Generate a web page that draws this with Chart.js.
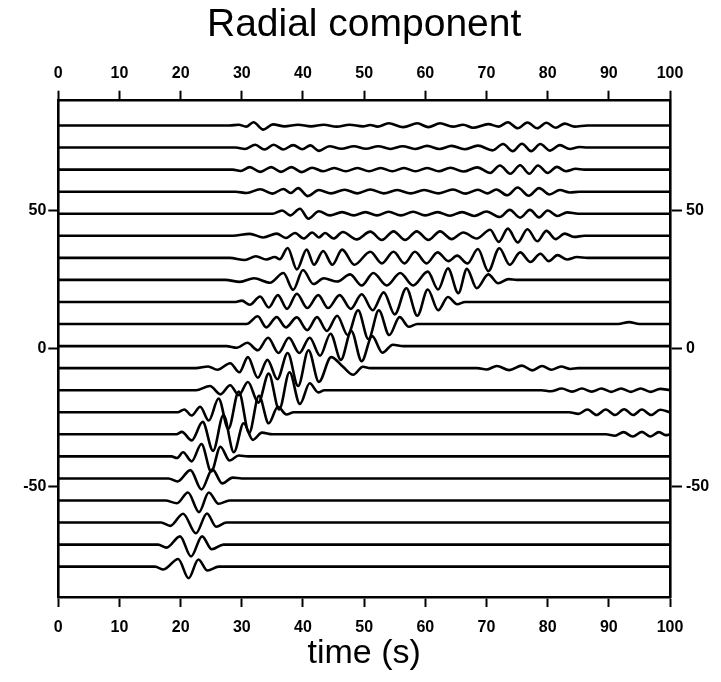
<!DOCTYPE html>
<html>
<head>
<meta charset="utf-8">
<script src="https://cdn.jsdelivr.net/npm/chart.js@4.4.0/dist/chart.umd.min.js"></script>
<style>
  html, body { margin: 0; padding: 0; background: #fff; }
  canvas { display: block; }
</style>
</head>
<body>
<canvas id="kesit" width="721" height="682"></canvas>
<script>
// record section: trace offsets (top to bottom) and [time, amplitude] pairs per trace
const baselines = [81, 73, 65, 57, 49, 41, 33, 25, 17, 9, 1, -7, -15, -23, -31, -39, -47, -55, -63, -71, -79];
const xTicks = [0, 10, 20, 30, 40, 50, 60, 70, 80, 90, 100];
const yTicks = [-50, 0, 50];

const tr0 = [[0,0],[28,0],[29.5,0.3],[30.7,-0.4],[31.9,1.2],[33.5,-1.5],[35.1,0.4],[37.0,-0.3],[39.2,0.3],[41.3,-0.3],[43.4,0.3],[45.5,-0.4],[47.6,0.3],[49.8,-0.3],[51.0,0.2],[52.2,-0.4],[54.0,0.8],[56.4,-0.6],[58.7,0.8],[60.5,-0.6],[62.4,0.8],[64.5,-0.4],[66.2,0.3],[67.8,-0.8],[70.3,0.5],[72.0,-0.4],[73.5,1.2],[75.1,-1.0],[76.7,1.1],[78.3,-1.0],[79.8,1.0],[81.3,-0.8],[82.8,0.7],[84.4,-0.4],[86.5,0],[100,0]];
const tr1 = [[0,0],[29,0],[30.5,-0.5],[32.2,1.0],[33.7,-0.7],[35.2,1.0],[36.8,-0.7],[38.4,0.9],[39.9,-0.6],[41.2,0.8],[42.6,-1.2],[44.3,0.5],[46.3,-0.4],[48.3,0.5],[50.3,-0.4],[52.3,0.5],[54.3,-0.5],[56.3,0.5],[58.3,-0.5],[60.3,0.6],[62.3,-0.5],[64.3,0.6],[66.4,-0.6],[68.6,0.7],[71.0,-1.0],[72.7,1.3],[74.3,-1.3],[75.8,1.4],[77.3,-1.3],[78.8,1.3],[80.4,-1.1],[82.0,0.9],[83.6,-0.5],[85.2,0.2],[86.5,0],[100,0]];
const tr2 = [[0,0],[28.5,0],[29.8,-0.5],[31.3,0.9],[33.0,-0.8],[34.8,0.9],[36.4,-0.8],[38.1,0.9],[39.8,-0.9],[41.5,0.7],[43.3,-0.6],[45.1,0.6],[47.0,-0.6],[48.9,0.6],[50.8,-0.6],[52.7,0.6],[54.6,-0.6],[56.5,0.6],[58.4,-0.6],[60.3,0.6],[62.2,-0.6],[64.1,0.7],[66.2,-0.7],[68.5,0.8],[70.6,-1.2],[72.2,1.5],[73.9,-1.5],[75.5,1.6],[77.0,-1.5],[78.4,1.5],[80.0,-1.2],[81.5,1.0],[83.0,-0.6],[84.6,0.3],[86,0],[100,0]];
const tr3 = [[0,0],[29,0],[30.8,-0.5],[33.0,0.9],[35.0,-0.7],[36.8,1.0],[38.0,-0.5],[39.2,1.3],[40.8,-1.6],[42.6,0.6],[44.6,-0.6],[46.8,0.7],[48.9,-0.6],[51.0,0.8],[53.2,-0.6],[55.4,0.6],[57.6,-0.6],[59.8,0.6],[62.2,-0.6],[64.5,0.8],[66.6,-0.7],[68.6,0.7],[70.2,-0.6],[71.6,0.8],[73.4,-1.3],[75.1,1.5],[76.9,-1.5],[78.6,1.3],[80.3,-1.0],[82.0,0.6],[83.6,-0.3],[85.2,0],[100,0]];
const tr4 = [[0,0],[35,0],[36.6,1.2],[37.9,-0.6],[39.5,1.8],[40.9,-1.8],[42.6,0.9],[44.4,-0.6],[46.4,0.6],[48.3,-0.6],[50.2,0.6],[52.1,-0.6],[54.0,0.7],[56.0,-0.6],[58.0,0.7],[60.0,-0.6],[62.0,0.6],[64.0,-0.7],[66.0,0.6],[68.0,-0.8],[70.0,0.8],[72.2,-1.2],[73.8,1.4],[75.5,-1.4],[77.1,1.4],[78.6,-1.3],[80.0,1.2],[81.6,-0.8],[83.2,0.5],[85,0],[100,0]];
const tr5 = [[0,0],[28.5,0],[31.3,0.7],[33.5,-0.6],[35.7,0.8],[37.2,-0.8],[38.7,1.0],[40.1,-1.0],[41.5,1.2],[42.6,-0.6],[43.6,1.0],[45.0,-1.0],[46.5,1.4],[48.8,-1.3],[51.0,1.5],[52.9,-1.5],[54.8,1.6],[56.7,-1.5],[58.6,1.6],[60.5,-1.5],[62.4,1.6],[64.3,-1.2],[66.2,1.2],[68.4,-1.0],[70.6,2.2],[72.0,-2.2],[73.5,2.6],[75.1,-2.4],[76.7,2.4],[78.3,-2.0],[79.8,1.8],[81.3,-1.2],[82.8,0.8],[84.3,-0.4],[86,0],[100,0]];
const tr6 = [[0,0],[28,0],[30.5,-0.8],[32.3,0.6],[34.0,-0.6],[35.4,0.3],[36.2,-0.5],[37.5,3.6],[39.0,-4.2],[40.6,3.0],[41.8,-2.5],[43.3,2.5],[44.8,-2.5],[46.4,3.0],[48.4,-2.5],[51.0,2.2],[52.9,-2.0],[54.8,2.2],[56.6,-2.0],[58.3,2.2],[60.2,-2.0],[62.0,2.0],[63.8,-1.2],[65.2,0.8],[66.9,-2.0],[68.6,3.2],[70.3,-4.8],[72.1,3.5],[73.8,-2.5],[75.5,2.0],[77.2,-1.5],[78.8,1.5],[80.2,-1.2],[81.6,1.0],[83.2,-0.6],[84.8,0.3],[86.5,0],[100,0]];
const tr7 = [[0,0],[27.3,0],[29.7,-0.7],[32.0,0.6],[34.6,-1.0],[36.8,2.5],[38.4,-3.6],[40.0,3.6],[41.7,-1.5],[43.4,0.6],[45.6,-0.6],[47.7,2.0],[49.6,-2.0],[51.5,2.5],[53.7,-2.0],[55.9,2.5],[58.0,-2.0],[60.4,3.0],[62.1,-3.5],[63.7,4.2],[65.4,-4.8],[66.8,4.0],[68.4,-3.0],[70.3,2.0],[71.9,-1.2],[73.6,0.3],[75,0],[100,0]];
const tr8 = [[0,0],[29,0],[30.0,0.5],[31.3,-1.0],[33.0,2.0],[34.4,-2.0],[35.9,2.5],[37.4,-2.5],[39.0,3.0],[40.7,-2.2],[42.5,2.5],[44.1,-2.2],[46.0,2.5],[47.8,-2.5],[49.6,2.8],[51.4,-3.0],[53.2,3.5],[55.0,-4.5],[56.9,5.0],[58.7,-5.0],[60.4,4.5],[62.1,-3.0],[63.7,1.8],[65.2,-0.8],[66.5,0],[100,0]];
const tr9 = [[0,0],[30.8,0],[32.6,2.8],[34.0,-1.2],[35.7,2.5],[37.2,-1.2],[39.0,2.4],[40.7,-2.2],[42.3,2.5],[43.9,-2.5],[45.6,3.0],[47.3,-4.0],[49.0,5.0],[50.7,-5.5],[52.4,5.0],[54.1,-4.0],[55.8,2.5],[57.3,-1.0],[58.7,0],[91.5,0],[93.3,0.7],[95,0],[100,0]];
const tr10 = [[0,0],[27.5,0],[29.2,-0.6],[30.9,1.2],[32.6,-1.5],[34.3,3.0],[36.0,-2.5],[37.7,3.0],[39.4,-2.5],[41.1,3.0],[42.8,-3.5],[44.5,4.5],[46.2,-5.0],[47.9,5.5],[49.6,-5.5],[51.3,3.6],[53.0,-2.4],[54.7,0.5],[56.4,0],[100,0]];
const tr11 = [[0,0],[22.5,0],[24.5,0.6],[26.0,-0.6],[28.1,1.8],[29.6,-1.5],[31.0,4.0],[32.6,-3.5],[34.2,3.0],[35.8,-4.0],[37.5,5.5],[39.2,-6.5],[40.9,6.5],[42.6,-5.0],[44.6,4.0],[46.5,0.6],[48.2,-2.4],[49.8,0.5],[51,0],[68.5,0],[70.0,-0.5],[71.7,0.8],[73.7,-0.7],[75.8,0.9],[77.5,-0.8],[79.1,0.8],[80.6,-0.6],[82.2,0.6],[83.7,-0.3],[85,0],[100,0]];
const tr12 = [[0,0],[22.5,0],[24.8,1.5],[26.5,-1.5],[28.1,1.8],[29.5,-1.8],[31.0,3.0],[32.7,-4.5],[34.4,6.0],[36.1,-7.0],[37.8,6.5],[39.5,-5.0],[41.1,2.5],[42.5,-0.8],[43.5,0],[79,0],[80.5,-0.4],[82.3,0.6],[84.0,-0.5],[85.6,0.6],[87.2,-0.5],[88.8,0.6],[90.4,-0.6],[92.0,0.6],[93.6,-0.6],[95.2,0.6],[96.8,-0.6],[98.4,0.5],[100,0]];
const tr13 = [[0,0],[19.5,0],[20.6,1.0],[21.8,-1.2],[23.2,2.0],[24.6,-3.0],[26.2,5.0],[27.8,-6.0],[29.5,7.5],[31.2,-7.5],[32.8,6.0],[34.4,-4.0],[35.9,2.0],[37.3,-0.8],[38.5,0],[83.5,0],[85.0,-0.6],[86.5,1.0],[88.0,-1.0],[89.5,1.0],[91.0,-1.0],[92.5,1.1],[94.0,-1.0],[95.4,1.0],[96.9,-1.0],[98.4,0.9],[100,0]];
const tr14 = [[0,0],[19.3,0],[20.2,0.9],[21.8,-2.2],[23.6,4.5],[25.3,-6.0],[27.0,7.0],[28.7,-6.5],[30.3,4.0],[31.8,-2.0],[33.3,0.6],[35,0],[89.5,0],[91.0,-0.5],[92.4,0.8],[93.9,-0.8],[95.4,0.9],[96.8,-0.8],[98.2,0.8],[99.3,-0.3],[100,0]];
const tr15 = [[0,0],[18.5,0],[19.4,-0.6],[20.4,1.5],[21.8,-1.8],[23.4,4.5],[25.0,-5.5],[26.5,3.5],[28.0,-1.5],[29.5,0.3],[31,0],[100,0]];
const tr16 = [[0,0],[18,0],[19.5,-1.1],[21.6,3.0],[23.4,-4.0],[25.2,3.3],[26.8,-1.8],[28.5,0.3],[30,0],[100,0]];
const tr17 = [[0,0],[17.5,0],[19.4,-1.0],[21.2,2.9],[23.0,-4.2],[24.6,2.9],[26.2,-1.2],[28,0],[100,0]];
const tr18 = [[0,0],[16.8,0],[18.3,-1.2],[20.4,3.2],[22.5,-3.9],[24.3,3.3],[25.8,-1.5],[27.5,0],[100,0]];
const tr19 = [[0,0],[16.3,0],[17.7,-1.1],[19.9,3.0],[21.7,-4.3],[23.5,3.0],[25.1,-1.7],[27,0],[100,0]];
const tr20 = [[0,0],[15.8,0],[17.2,-1.0],[19.6,2.8],[21.3,-4.2],[22.9,2.6],[24.4,-1.4],[26.2,0],[100,0]];

const izler = [tr0, tr1, tr2, tr3, tr4, tr5, tr6, tr7, tr8, tr9, tr10, tr11, tr12, tr13, tr14, tr15, tr16, tr17, tr18, tr19, tr20];

const FONT = "'Liberation Sans', Arial, Helvetica, sans-serif";
Chart.defaults.font.family = FONT;
Chart.defaults.color = "#000";

// each trace is drawn around its own offset on the y scale
const setler = izler.map((iz, i) => ({
  data: iz.map(([t, a]) => ({ x: t, y: baselines[i] + a })),
  borderColor: "#000",
  borderWidth: 2.6,
  pointRadius: 0,
  cubicInterpolationMode: "monotone",
  fill: false,
}));

const tikFont = { size: 16, weight: "bold", family: FONT };
const eksenX = (pos, extra) => ({
  type: "linear", position: pos, min: 0, max: 100,
  afterBuildTicks: s => { s.ticks = xTicks.map(v => ({ value: v })); },
  ticks: { font: tikFont, padding: pos === "top" ? 8 : 11, maxRotation: 0 },
  grid: { drawOnChartArea: false, tickLength: 10, tickWidth: 2, tickColor: "#000" },
  border: { color: "#000", width: 2.6 },
  ...extra,
});
const eksenY = (pos, w) => ({
  type: "linear", position: pos, min: -90, max: 90,
  afterBuildTicks: s => { s.ticks = yTicks.map(v => ({ value: v })); },
  afterFit: s => { s.width = w; },
  ticks: { font: tikFont, padding: pos === "left" ? 2 : 4 },
  grid: { drawOnChartArea: false, tickLength: pos === "left" ? 10 : 12, tickWidth: 2, tickColor: "#000" },
  border: { color: "#000", width: 2.6 },
});

new Chart(document.getElementById("kesit"), {
  type: "line",
  data: { datasets: setler },
  options: {
    responsive: false,
    animation: false,
    devicePixelRatio: 1,
    layout: { padding: 0 },
    plugins: { legend: { display: false }, tooltip: { enabled: false } },
    scales: {
      x: eksenX("bottom", {
        afterFit: s => { s.height = 85; },
        title: { display: true, text: "time (s)", font: { size: 34, family: FONT }, padding: { top: 0, bottom: 8 } },
      }),
      xUst: eksenX("top", {
        afterFit: s => { s.height = 100.7; },
        title: { display: true, text: "Radial component", font: { size: 39, family: FONT }, padding: { top: 2, bottom: 0 } },
      }),
      y: eksenY("left", 58.3),
      ySag: eksenY("right", 51),
    },
  },
});
</script>
</body>
</html>
